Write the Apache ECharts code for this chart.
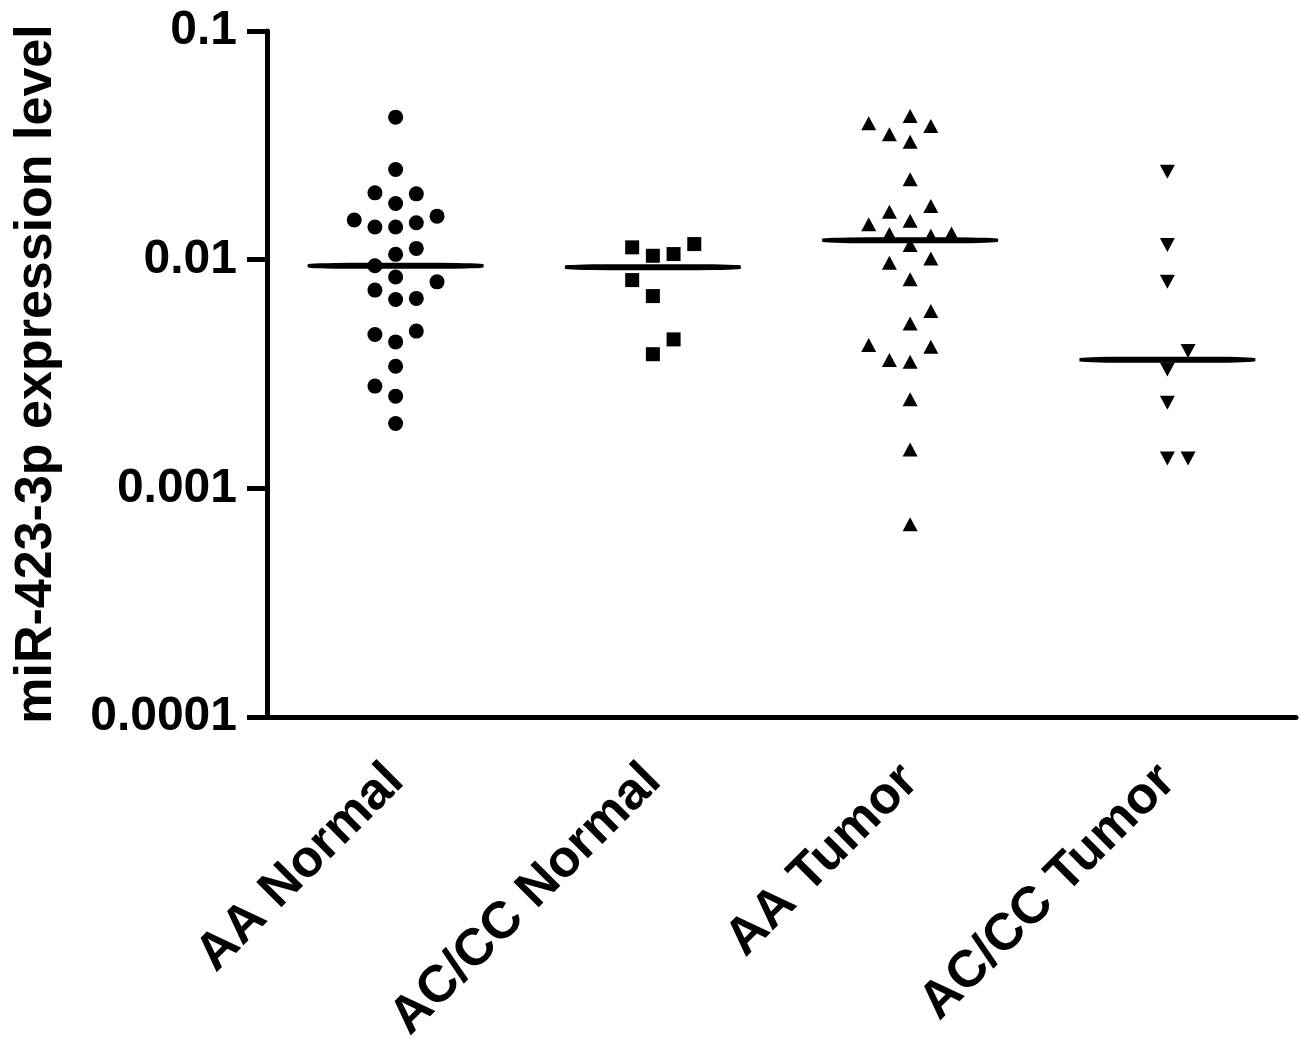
<!DOCTYPE html>
<html>
<head>
<meta charset="utf-8">
<title>miR-423-3p expression</title>
<script src="https://cdn.jsdelivr.net/npm/echarts@6.0.0/dist/echarts.min.js"></script>
<style>
  html, body { margin: 0; padding: 0; background: #fff; }
  #chart { width: 1300px; height: 1041px; }
</style>
</head>
<body>
<div id="chart"></div>
<script>
// groups on the x axis
var categories = ['AA Normal', 'AC/CC Normal', 'AA Tumor', 'AC/CC Tumor'];
var yTickLabels = ['0.0001', '0.001', '0.01', '0.1'];

// expression values, with the dot column (-2..2) of the scatter
var aaNormal = [0.042, 0.0248, 0.0196, 0.0194, 0.0176, 0.0149, 0.0155, 0.0139, 0.0139, 0.0145,
  0.0112, 0.01055, 0.0094, 0.0084, 0.0080, 0.00736, 0.0067, 0.00677, 0.00471, 0.00487,
  0.00437, 0.00342, 0.0028, 0.00253, 0.00192];
var aaNormalCol = [0, 0, -1, 1, 0, -2, 2, -1, 0, 1, 1, 0, -1, 0, 2, -1, 0, 1, -1, 1, 0, 0, -1, 0, 0];

var acNormal = [0.01132, 0.0104, 0.01058, 0.0117, 0.00814, 0.00693, 0.00448, 0.00386];
var acNormalCol = [-1, 0, 1, 2, -1, 0, 1, 0];

var aaTumor = [0.0395, 0.0425, 0.0384, 0.0354, 0.0328, 0.02245, 0.01715, 0.0162, 0.0143, 0.0148,
  0.01294, 0.01273, 0.01303, 0.01158, 0.00969, 0.01013, 0.0082, 0.00596, 0.00526, 0.00423,
  0.00416, 0.00364, 0.00358, 0.00245, 0.00148, 0.000697];
var aaTumorCol = [-2, 0, 1, -1, 0, 0, 1, -1, -2, 0, -1, 1, 2, 0, -1, 1, 0, 1, 0, -2, 1, -1, 0, 0, 0, 0];

var acTumor = [0.02423, 0.01158, 0.008, 0.00399, 0.00331, 0.00237, 0.00135, 0.00135];
var acTumorCol = [0, 0, 0, 1, 0, 0, 0, 1];

var COL_GAP = 20.7;

function median(arr) {
  var s = arr.slice().sort(function (a, b) { return a - b; });
  var m = Math.floor(s.length / 2);
  return s.length % 2 ? s[m] : (s[m - 1] + s[m]) / 2;
}

function points(idx, vals, cols) {
  return vals.map(function (v, i) {
    return { value: [idx, v], symbolOffset: [cols[i] * COL_GAP, 0] };
  });
}

function dots(idx, vals, cols, symbol, size, rotate) {
  return {
    type: 'scatter',
    data: points(idx, vals, cols),
    symbol: symbol,
    symbolSize: size,
    symbolRotate: rotate || 0,
    itemStyle: { color: '#000', opacity: 1 },
    silent: true
  };
}

var groups = [aaNormal, acNormal, aaTumor, acTumor];
var medianData = groups.map(function (g, i) { return [i, median(g)]; });

var labelFont = 'Liberation Sans, Arial, sans-serif';

var option = {
  backgroundColor: '#fff',
  animation: false,
  grid: { left: 267, right: 4, top: 31, bottom: 324, outerBoundsMode: 'none' },
  xAxis: {
    type: 'category',
    data: categories,
    boundaryGap: true,
    axisLine: { lineStyle: { color: '#000', width: 5 } },
    axisTick: { alignWithLabel: true, length: 20, lineStyle: { color: '#000', width: 5 } },
    axisLabel: {
      interval: 0,
      rotate: 45,
      margin: 56,
      color: '#000',
      fontSize: 52,
      fontWeight: 'bold',
      fontFamily: labelFont
    },
    splitLine: { show: false }
  },
  yAxis: {
    type: 'log',
    logBase: 10,
    min: 0.0001,
    max: 0.1,
    name: 'miR-423-3p expression level',
    nameLocation: 'middle',
    nameGap: 204,
    nameTextStyle: { color: '#000', fontSize: 52, fontWeight: 'bold', fontFamily: labelFont },
    axisLine: { show: true, lineStyle: { color: '#000', width: 5 } },
    axisTick: { show: true, length: 20, lineStyle: { color: '#000', width: 5 } },
    axisLabel: {
      margin: 30,
      color: '#000',
      fontSize: 48,
      fontWeight: 'bold',
      fontFamily: labelFont,
      formatter: function (v) {
        return yTickLabels[Math.round(Math.log10(v)) + 4];
      }
    },
    splitLine: { show: false }
  },
  series: [
    dots(0, aaNormal, aaNormalCol, 'circle', 15),
    dots(1, acNormal, acNormalCol, 'rect', 14),
    dots(2, aaTumor, aaTumorCol, 'triangle', [15, 14]),
    dots(3, acTumor, acTumorCol, 'triangle', [15, 14], 180),
    {
      type: 'scatter',
      data: medianData,
      symbol: 'roundRect',
      symbolSize: [176, 6],
      itemStyle: { color: '#000', opacity: 1 },
      z: 3,
      silent: true
    }
  ]
};

var chart = echarts.init(document.getElementById('chart'));
chart.setOption(option);
</script>
</body>
</html>
